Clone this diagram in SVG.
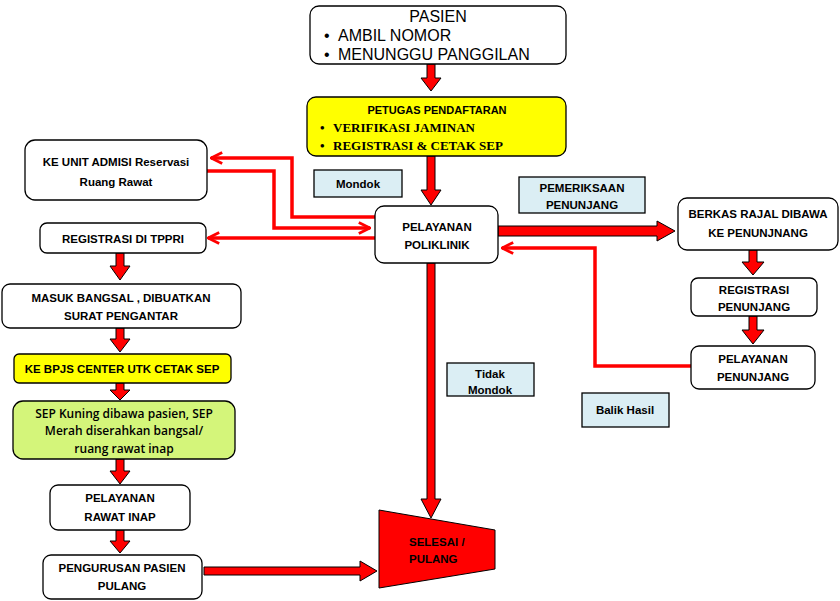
<svg xmlns="http://www.w3.org/2000/svg" width="840" height="601" viewBox="0 0 840 601">
<defs>
<style>
.box{fill:#fff;stroke:#000;stroke-width:1.3}
.yel{fill:#ffff00;stroke:#000;stroke-width:1.3}
.grn{fill:#d4f57a;stroke:#000;stroke-width:1.3}
.lbl{fill:#dbeef4;stroke:#000;stroke-width:1.3}
.t{font-family:"Liberation Sans",Arial,sans-serif;font-weight:bold;font-size:11.5px;fill:#000;text-anchor:middle}
.ts{font-family:"Liberation Sans",Arial,sans-serif;font-weight:bold;font-size:11.5px;fill:#000;text-anchor:start}
.tn{font-family:"Open Sans","Liberation Sans",sans-serif;font-weight:600;font-size:12px;fill:#000;text-anchor:middle}
.p{font-family:"Liberation Sans",Arial,sans-serif;font-size:16px;fill:#000}
.s{font-family:"Liberation Serif","Times New Roman",serif;font-weight:bold;font-size:13px;fill:#000}
.blk{fill:#ff0000;stroke:#000;stroke-width:1}
.ln{fill:none;stroke:#ff0000;stroke-width:3.5}
</style>
<marker id="ah" viewBox="0 0 10 10" refX="9" refY="5" markerWidth="4" markerHeight="4" orient="auto" markerUnits="strokeWidth">
<path d="M1,1 L9,5 L1,9" fill="none" stroke="#ff0000" stroke-width="2"/>
</marker>
</defs>
<rect width="840" height="601" fill="#fff"/>

<g id="connectors">
<path class="blk" d="M427,64 H435 V78 H441 L431,91 L421,78 H427 Z"/>
<path class="blk" d="M427,156 H435 V190 H441 L431,205 L421,190 H427 Z"/>
<path class="blk" d="M427,263 H435 V499 H441 L431,518 L421,499 H427 Z"/>
<path class="blk" d="M498,226 H657 V221 L675,231 L657,241 V236 H498 Z"/>
<path class="blk" d="M749,250 H757 V262 H764 L753,275 L742,262 H749 Z"/>
<path class="blk" d="M749,316 H757 V330 H764 L753,344 L742,330 H749 Z"/>
<path class="blk" d="M116,253 H124 V266 H130 L120,280 L110,266 H116 Z"/>
<path class="blk" d="M116,328 H124 V339 H130 L120,352 L110,339 H116 Z"/>
<path class="blk" d="M116,383 H124 V390 H130 L120,400 L110,390 H116 Z"/>
<path class="blk" d="M116,459 H124 V471 H130 L120,484 L110,471 H116 Z"/>
<path class="blk" d="M116,530 H124 V541 H130 L120,553 L110,541 H116 Z"/>
<path class="blk" d="M204,567 H360 V561 L377,571 L360,581 V575 H204 Z"/>
<path class="ln" d="M375,217 H292 V158 H211" marker-end="url(#ah)"/>
<path class="ln" d="M207,171 H274 V228 H370" marker-end="url(#ah)"/>
<path class="ln" d="M375,238 H208" marker-end="url(#ah)"/>
<path class="ln" d="M691,366 H595 V248 H502" marker-end="url(#ah)"/>
</g>

<g id="pasien">
<rect class="box" x="310" y="6" width="256" height="58" rx="9"/>
<text class="p" x="438" y="22" text-anchor="middle">PASIEN</text>
<text class="p" x="324" y="41">•</text>
<text class="p" x="338" y="41">AMBIL NOMOR</text>
<text class="p" x="324" y="60">•</text>
<text class="p" x="338" y="60">MENUNGGU PANGGILAN</text>
</g>

<g id="petugas">
<rect class="yel" x="307" y="97" width="259" height="59" rx="9"/>
<text class="t" x="437" y="114" style="font-size:11px">PETUGAS PENDAFTARAN</text>
<text class="s" x="320" y="132">•</text>
<text class="s" x="333" y="132">VERIFIKASI JAMINAN</text>
<text class="s" x="320" y="150">•</text>
<text class="s" x="333" y="150">REGISTRASI &amp; CETAK SEP</text>
</g>

<g id="mondok">
<rect class="lbl" x="314" y="170" width="88" height="27"/>
<text class="t" x="358" y="188">Mondok</text>
</g>

<g id="poliklinik">
<rect class="box" x="375" y="206" width="123" height="57" rx="9"/>
<text class="t" x="437" y="231">PELAYANAN</text>
<text class="t" x="437" y="249">POLIKLINIK</text>
</g>

<g id="admisi">
<rect class="box" x="25" y="140" width="182" height="60" rx="10"/>
<text class="t" x="116" y="166">KE UNIT ADMISI Reservasi</text>
<text class="t" x="116" y="186">Ruang Rawat</text>
</g>

<g id="tppri">
<rect class="box" x="40" y="223" width="166" height="30" rx="7"/>
<text class="t" x="123" y="243">REGISTRASI DI TPPRI</text>
</g>

<g id="pemeriksaan">
<rect class="lbl" x="519" y="177" width="126" height="36"/>
<text class="t" x="582" y="192">PEMERIKSAAN</text>
<text class="t" x="582" y="209">PENUNJANG</text>
</g>

<g id="berkas">
<rect class="box" x="678" y="198" width="160" height="52" rx="9"/>
<text class="t" x="758" y="218">BERKAS RAJAL DIBAWA</text>
<text class="t" x="758" y="237">KE PENUNJNANG</text>
</g>

<g id="registrasi-penunjang">
<rect class="box" x="691" y="278" width="126" height="38" rx="7"/>
<text class="t" x="754" y="294">REGISTRASI</text>
<text class="t" x="754" y="311">PENUNJANG</text>
</g>

<g id="pelayanan-penunjang">
<rect class="box" x="691" y="346" width="124" height="43" rx="8"/>
<text class="t" x="753" y="363">PELAYANAN</text>
<text class="t" x="753" y="381">PENUNJANG</text>
</g>

<g id="tidak-mondok">
<rect class="lbl" x="447" y="363" width="87" height="33"/>
<text class="t" x="490" y="378">Tidak</text>
<text class="t" x="490" y="394">Mondok</text>
</g>

<g id="balik-hasil">
<rect class="lbl" x="582" y="393" width="87" height="34"/>
<text class="t" x="625" y="414">Balik Hasil</text>
</g>

<g id="masuk-bangsal">
<rect class="box" x="2" y="284" width="239" height="44" rx="8"/>
<text class="t" x="121" y="302">MASUK BANGSAL , DIBUATKAN</text>
<text class="t" x="121" y="320">SURAT PENGANTAR</text>
</g>

<g id="bpjs">
<rect class="yel" x="14" y="354" width="217" height="29" rx="5"/>
<text class="t" x="122" y="373">KE BPJS CENTER UTK CETAK SEP</text>
</g>

<g id="sep">
<rect class="grn" x="13" y="401" width="222" height="58" rx="10"/>
<text class="tn" x="124" y="418">SEP Kuning dibawa pasien, SEP</text>
<text class="tn" x="124" y="435">Merah diserahkan bangsal/</text>
<text class="tn" x="124" y="453">ruang rawat inap</text>
</g>

<g id="rawat-inap">
<rect class="box" x="50" y="485" width="140" height="45" rx="8"/>
<text class="t" x="120" y="502">PELAYANAN</text>
<text class="t" x="120" y="521">RAWAT INAP</text>
</g>

<g id="pengurusan">
<rect class="box" x="43" y="555" width="159" height="44" rx="8"/>
<text class="t" x="122" y="572">PENGURUSAN PASIEN</text>
<text class="t" x="122" y="590">PULANG</text>
</g>

<g id="selesai">
<path d="M379,510 L495,530 L495,569 L379,588 Z" fill="#ff0000" stroke="#000" stroke-width="1"/>
<text class="ts" x="409" y="546">SELESAI /</text>
<text class="ts" x="409" y="563">PULANG</text>
</g>
</svg>
